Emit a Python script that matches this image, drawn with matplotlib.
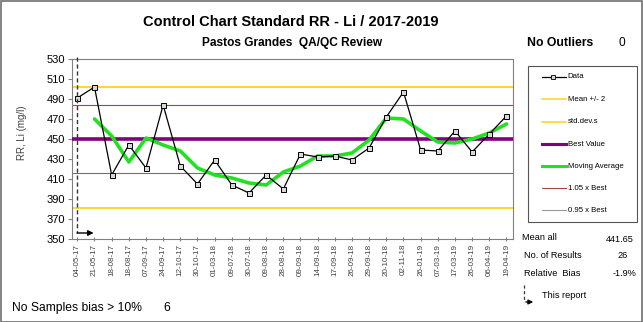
import matplotlib
matplotlib.use("Agg")
import matplotlib.pyplot as plt
from matplotlib.patches import Rectangle, FancyArrowPatch
from matplotlib.lines import Line2D

plt.rcParams['font.family'] = ['Liberation Sans', 'DejaVu Sans']

dates = ["04-05-17", "21-05-17", "18-08-17", "18-08-17", "07-09-17", "24-09-17",
         "12-10-17", "30-10-17", "01-03-18", "09-07-18", "30-07-18", "09-08-18",
         "28-08-18", "09-09-18", "14-09-18", "17-09-18", "26-09-18", "29-09-18",
         "20-10-18", "02-11-18", "26-01-19", "07-03-19", "17-03-19", "26-03-19",
         "06-04-19", "19-04-19"]
data = [491, 502, 414, 444, 421, 484, 423, 405, 429, 404, 396, 414, 400,
        435, 432, 433, 429, 441, 472, 497, 439, 438, 458, 437, 455, 473]
moving_avg = [None, 470, 453, 427, 451, 444, 438, 421, 414, 411, 406, 404, 417,
              423, 433, 433, 436, 449, 471, 470, 458, 447, 446, 450, 456, 465]
best_value = 450
upper_2sd = 502
lower_2sd = 381
upper_105 = 484.5
lower_095 = 416.5

W, H = 643, 322
fig = plt.figure(figsize=(W / 100, H / 100), dpi=100)

def fx(px):
    return px / W

def fy(py):
    return 1 - py / H

ax = fig.add_axes([fx(72), fy(239), fx(513) - fx(72), fy(59) - fy(239)])
n = len(data)
x = list(range(n))

ax.axhline(upper_2sd, color='#FFD21F', lw=1.3, zorder=2)
ax.axhline(lower_2sd, color='#FFD21F', lw=1.3, zorder=2)
ax.axhline(upper_105, color='#A04848', lw=0.8, zorder=2)
ax.axhline(lower_095, color='#707070', lw=0.8, zorder=2)
ax.axhline(best_value, color='#800080', lw=2.6, zorder=3)

ma_x = [i for i, v in enumerate(moving_avg) if v is not None]
ma_y = [v for v in moving_avg if v is not None]
ax.plot(ma_x, ma_y, color='#22E022', lw=2.6, zorder=4, solid_capstyle='round')
ax.plot(x, data, color='black', lw=0.9, marker='s', ms=3.6, mfc='#D8D8D8',
        mec='black', mew=0.7, zorder=5)

ax.set_xlim(-0.31, 25.38)
ax.set_ylim(350, 530)
ax.set_yticks(range(350, 531, 20))
ax.set_xticks(x)
ax.set_xticklabels(dates, rotation=90, fontsize=5.8, color='#404040')
ax.tick_params(axis='y', labelsize=8, length=3, color='#808080', pad=2)
ax.tick_params(axis='x', length=3, color='#808080', pad=2, direction='inout')
for s in ax.spines.values():
    s.set_color('#808080')
    s.set_linewidth(0.8)
ax.set_ylabel("RR, Li (mg/l)", fontsize=7, color='#404040')
ax.yaxis.set_label_coords((27 - 72) / (513 - 72), (239 - 133) / 180)

# "This report" dashed marker at first sample
ax.plot([0, 0], [532.5, 356], color='#333333', lw=1.0, ls=(0, (3, 2)),
        clip_on=False, zorder=6)
ax.annotate("", xy=(0.95, 356), xytext=(-0.02, 356),
            arrowprops=dict(arrowstyle='-|>', color='black', lw=1.0,
                            mutation_scale=8, shrinkA=0, shrinkB=0),
            annotation_clip=False, zorder=6)

# Titles
fig.text(fx(291), fy(22), "Control Chart Standard RR - Li / 2017-2019",
         ha='center', va='center', fontsize=10.5, fontweight='bold')
fig.text(fx(292), fy(43), "Pastos Grandes  QA/QC Review",
         ha='center', va='center', fontsize=8.6, fontweight='bold')
fig.text(fx(527), fy(43), "No Outliers", ha='left', va='center',
         fontsize=8.8, fontweight='bold')
fig.text(fx(622), fy(43), "0", ha='center', va='center', fontsize=8.6)

# Legend box (drawn manually)
fig.patches.append(Rectangle((fx(528), fy(222)), fx(637) - fx(528),
                             fy(66) - fy(222), transform=fig.transFigure,
                             fill=False, ec='#555555', lw=0.8))
legend_items = [
    ("Data", dict(color='black', lw=0.9, marker='s', ms=3.2, mfc='#D8D8D8', mec='black', mew=0.6, markevery=[1])),
    ("Mean +/- 2", dict(color='#FFD21F', lw=1.1)),
    ("std.dev.s", dict(color='#FFD21F', lw=1.1)),
    ("Best Value", dict(color='#800080', lw=2.2)),
    ("Moving Average", dict(color='#22E022', lw=2.2)),
    ("1.05 x Best", dict(color='#A04848', lw=0.8)),
    ("0.95 x Best", dict(color='#999999', lw=0.8)),
]
ys = [77, 99.5, 122, 144, 166, 188, 210]
for (label, st), yy in zip(legend_items, ys):
    fig.lines.append(Line2D([fx(542), fx(553), fx(566)], [fy(yy)] * 3,
                            transform=fig.transFigure, **st))
    fig.text(fx(567.5), fy(yy), label, ha='left', va='center', fontsize=5.6)

# Stats
fig.text(fx(521.5), fy(238), "Mean all", ha='left', va='center', fontsize=6.6)
fig.text(fx(634), fy(239), "441.65", ha='right', va='center', fontsize=6.6)
fig.text(fx(524), fy(256), "No. of Results", ha='left', va='center', fontsize=6.6)
fig.text(fx(623), fy(256), "26", ha='center', va='center', fontsize=6.6)
fig.text(fx(524), fy(274), "Relative  Bias", ha='left', va='center', fontsize=6.6)
fig.text(fx(636), fy(274), "-1.9%", ha='right', va='center', fontsize=6.6)
fig.lines.append(Line2D([fx(523.5), fx(523.5)], [fy(285), fy(302)],
                        transform=fig.transFigure, color='#333333', lw=0.9,
                        ls=(0, (2.5, 2))))
fig.patches.append(FancyArrowPatch(
    (fx(523), fy(302)), (fx(536), fy(302)), transform=fig.transFigure,
    arrowstyle='-|>', mutation_scale=7, color='black', lw=0.9))
fig.text(fx(541.5), fy(295), "This report", ha='left', va='center', fontsize=6.6)

fig.text(fx(12), fy(308), "No Samples bias > 10%", ha='left', va='center', fontsize=8.7)
fig.text(fx(167), fy(308), "6", ha='center', va='center', fontsize=8.7)

# Outer border
fig.patches.append(Rectangle((0.5 / W, 0.5 / H), 1 - 1.5 / W, 1 - 1.5 / H,
                             transform=fig.transFigure, fill=False,
                             ec='#707070', lw=1.2))

fig.savefig("out.png", dpi=100)
